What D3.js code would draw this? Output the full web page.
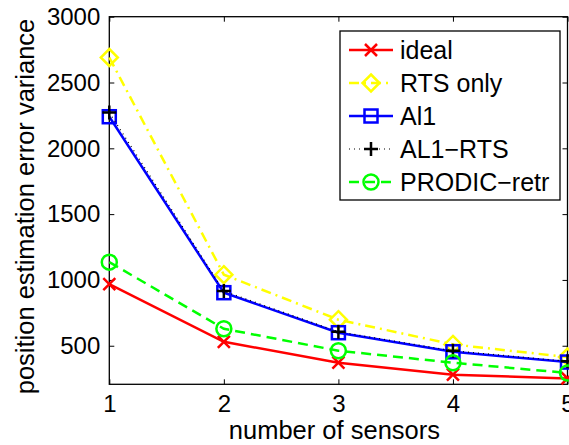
<!DOCTYPE html>
<html><head><meta charset="utf-8">
<script src="https://cdn.jsdelivr.net/npm/d3@7"></script>
<style>body{margin:0;background:#fff;overflow:hidden}svg{display:block}text{font-family:"Liberation Sans",Arial,sans-serif;fill:#000}</style>
</head><body>
<svg id="c" width="569" height="445"></svg>
<script>
const sensors = [1, 2, 3, 4, 5];
const ideal = [968, 530, 371, 280, 252];
const rtsOnly = [2690, 1040, 698, 510, 414];
const al1 = [2240, 903, 599, 454, 376];
const al1Rts = [2272, 915, 606, 462, 382];
const prodic = [1135, 629, 462, 371, 293];
const yTicks = [500, 1000, 1500, 2000, 2500, 3000];
const xTicks = [1, 2, 3, 4, 5];
const seriesNames = ["ideal", "RTS only", "Al1", "AL1\u2212RTS", "PRODIC\u2212retr"];

const series = [
  {name: seriesNames[0], values: ideal, color: "#ff0000", dash: null, width: 2.5, marker: "x"},
  {name: seriesNames[1], values: rtsOnly, color: "#ffff00", dash: "10,5,2,5", width: 2.5, marker: "diamond"},
  {name: seriesNames[2], values: al1, color: "#0000ff", dash: null, width: 2.5, marker: "square"},
  {name: seriesNames[3], values: al1Rts, color: "#000000", dash: "1,4", width: 1.2, marker: "plus"},
  {name: seriesNames[4], values: prodic, color: "#00ff00", dash: "10,6", width: 2.5, marker: "circle"}
];

const L = 109.3, R = 567.5, T = 16.7, B = 384.3;
const x = d3.scaleLinear().domain([1, 5]).range([L, R]);
const y = d3.scaleLinear().domain([207, 3000]).range([B, T]);
const svg = d3.select("#c");

const gx = svg.append("g").attr("transform", `translate(0,${B})`)
  .call(d3.axisBottom(x).tickValues(xTicks).tickSize(-5).tickPadding(11).tickFormat(d3.format("d")));
const gy = svg.append("g").attr("transform", `translate(${L},0)`)
  .call(d3.axisLeft(y).tickValues(yTicks).tickSize(-5).tickPadding(9).tickFormat(d3.format("d")));
const gxt = svg.append("g").attr("transform", `translate(0,${T})`)
  .call(d3.axisTop(x).tickValues(xTicks).tickSize(-5).tickFormat(""));
const gyr = svg.append("g").attr("transform", `translate(${R},0)`)
  .call(d3.axisRight(y).tickValues(yTicks).tickSize(-5).tickFormat(""));
[gx, gy, gxt, gyr].forEach(g => {
  g.select(".domain").remove();
  g.selectAll("line").attr("stroke", "#000").attr("stroke-width", 1);
  g.selectAll("text").style("font-size", "24px").attr("fill", "#000");
});
svg.append("rect").attr("x", L).attr("y", T).attr("width", R - L).attr("height", B - T)
  .attr("fill", "none").attr("stroke", "#000").attr("stroke-width", 1.3);

svg.append("text").attr("x", (L + R) / 2 - 4).attr("y", 439).attr("text-anchor", "middle")
  .style("font-size", "25.5px").text("number of sensors");
svg.append("text").attr("transform", `translate(34,${(T + B) / 2 + 6}) rotate(-90)`).attr("text-anchor", "middle")
  .style("font-size", "25.5px").text("position estimation error variance");

function drawMarker(g, type, cx, cy, color) {
  const s = g.append("g").attr("transform", `translate(${cx},${cy})`)
    .attr("fill", "none").attr("stroke", color).attr("stroke-width", 2.5);
  if (type === "x") s.append("path").attr("d", "M-6,-6L6,6M-6,6L6,-6");
  else if (type === "diamond") s.append("path").attr("d", "M0,-8.5L8.5,0L0,8.5L-8.5,0Z");
  else if (type === "square") s.append("rect").attr("x", -6.5).attr("y", -6.5).attr("width", 13).attr("height", 13);
  else if (type === "plus") s.append("path").attr("d", "M-7,0L7,0M0,-7L0,7");
  else if (type === "circle") s.append("circle").attr("r", 7.5);
}

const line = d3.line().x((d, i) => x(sensors[i])).y(d => y(d));
series.forEach(s => {
  const g = svg.append("g");
  g.append("path").attr("d", line(s.values)).attr("fill", "none").attr("stroke", s.color)
    .attr("stroke-width", s.width).attr("stroke-dasharray", s.dash);
  s.values.forEach((v, i) => drawMarker(g, s.marker, x(sensors[i]), y(v), s.color));
});

const lg = svg.append("g");
lg.append("rect").attr("x", 340).attr("y", 31).attr("width", 220).attr("height", 169)
  .attr("fill", "#fff").attr("stroke", "#000").attr("stroke-width", 1.3);
series.forEach((s, i) => {
  const cy = 50 + i * 33;
  lg.append("line").attr("x1", 349).attr("x2", 393).attr("y1", cy).attr("y2", cy)
    .attr("stroke", s.color).attr("stroke-width", s.width).attr("stroke-dasharray", s.dash);
  drawMarker(lg, s.marker, 371, cy, s.color);
  lg.append("text").attr("x", 400).attr("y", cy + 9).style("font-size", "25px").text(s.name);
});
</script>
</body></html>
